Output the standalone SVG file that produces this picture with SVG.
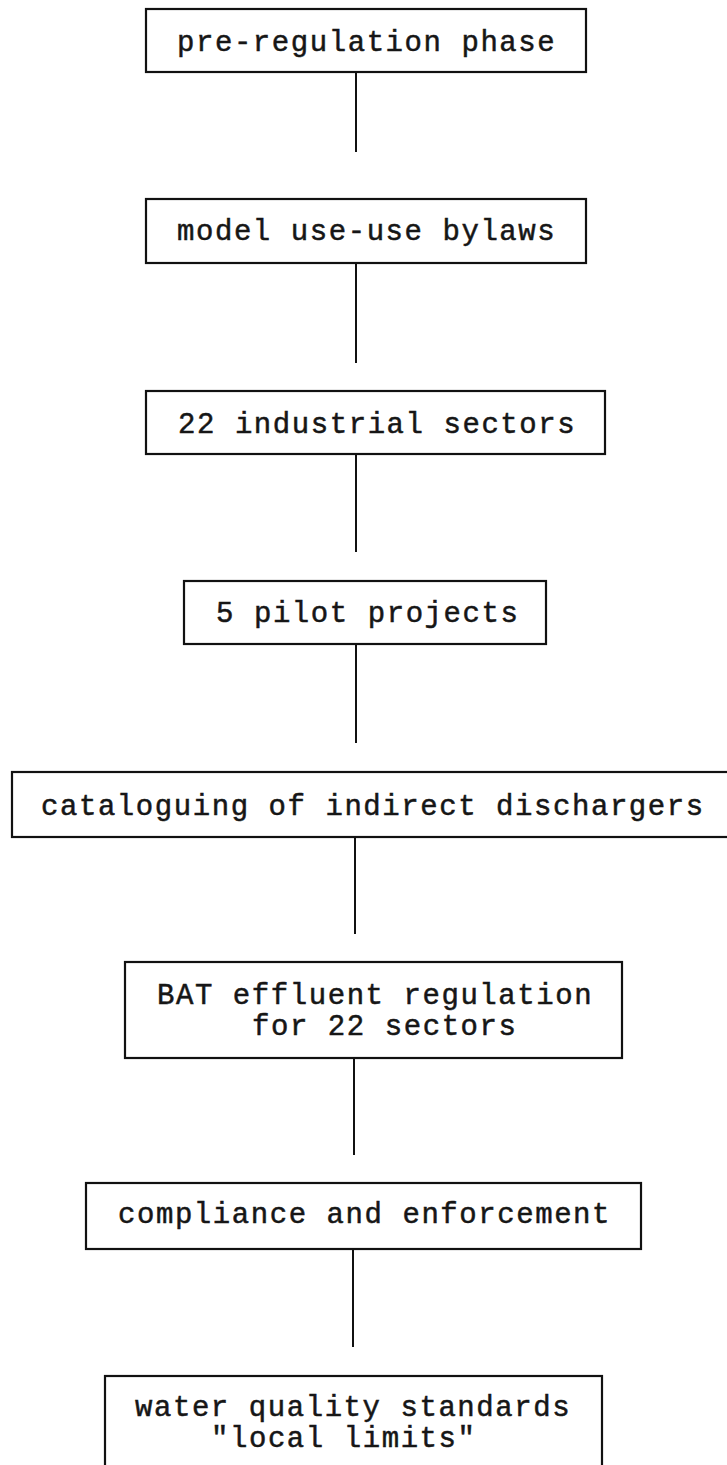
<svg xmlns="http://www.w3.org/2000/svg" width="727" height="1465" viewBox="0 0 727 1465">
  <style>
    .box { fill: #ffffff; stroke: #111111; stroke-width: 2.2; }
    /* typewriter cells: 18.96px per character, slightly inked strokes */
    .lbl { font-family: "Liberation Mono", "Courier New", monospace; font-size: 29px; letter-spacing: 1.56px; fill: #161616; stroke: #161616; stroke-width: 0.5px; }
    .wire { stroke: #111111; stroke-width: 2; fill: none; }
  </style>
  <rect width="727" height="1465" fill="#ffffff"/>

  <!-- vertical connectors between stages -->
  <g id="connectors">
    <line class="wire" x1="356" y1="72" x2="356" y2="152"/>
    <line class="wire" x1="356" y1="263" x2="356" y2="363"/>
    <line class="wire" x1="356" y1="454" x2="356" y2="552"/>
    <line class="wire" x1="356" y1="644" x2="356" y2="743"/>
    <line class="wire" x1="355" y1="837" x2="355" y2="934"/>
    <line class="wire" x1="354" y1="1058" x2="354" y2="1155"/>
    <line class="wire" x1="353" y1="1249" x2="353" y2="1347"/>
  </g>

  <g id="pre-regulation">
    <rect class="box" x="146" y="9" width="440" height="63"/>
    <text class="lbl" x="177" y="51">pre-regulation phase</text>
  </g>

  <g id="bylaws">
    <rect class="box" x="146" y="199" width="440" height="64"/>
    <text class="lbl" x="177" y="240">model use-use bylaws</text>
  </g>

  <g id="sectors">
    <rect class="box" x="146" y="391" width="459" height="63"/>
    <text class="lbl" x="178" y="433">22 industrial sectors</text>
  </g>

  <g id="pilots">
    <rect class="box" x="184" y="581" width="362" height="63"/>
    <text class="lbl" x="216" y="622">5 pilot projects</text>
  </g>

  <g id="cataloguing">
    <rect class="box" x="12" y="772" width="730" height="65"/>
    <text class="lbl" x="41" y="815">cataloguing of indirect dischargers</text>
  </g>

  <g id="bat-regulation">
    <rect class="box" x="125" y="962" width="497" height="96"/>
    <text class="lbl" x="157" y="1004">BAT effluent regulation</text>
    <text class="lbl" x="252" y="1035">for 22 sectors</text>
  </g>

  <g id="compliance">
    <rect class="box" x="86" y="1183" width="555" height="66"/>
    <text class="lbl" x="118" y="1223">compliance and enforcement</text>
  </g>

  <g id="water-quality">
    <rect class="box" x="105" y="1376" width="497" height="100"/>
    <text class="lbl" x="135" y="1416">water quality standards</text>
    <text class="lbl" x="211" y="1447">"local limits"</text>
  </g>
</svg>
